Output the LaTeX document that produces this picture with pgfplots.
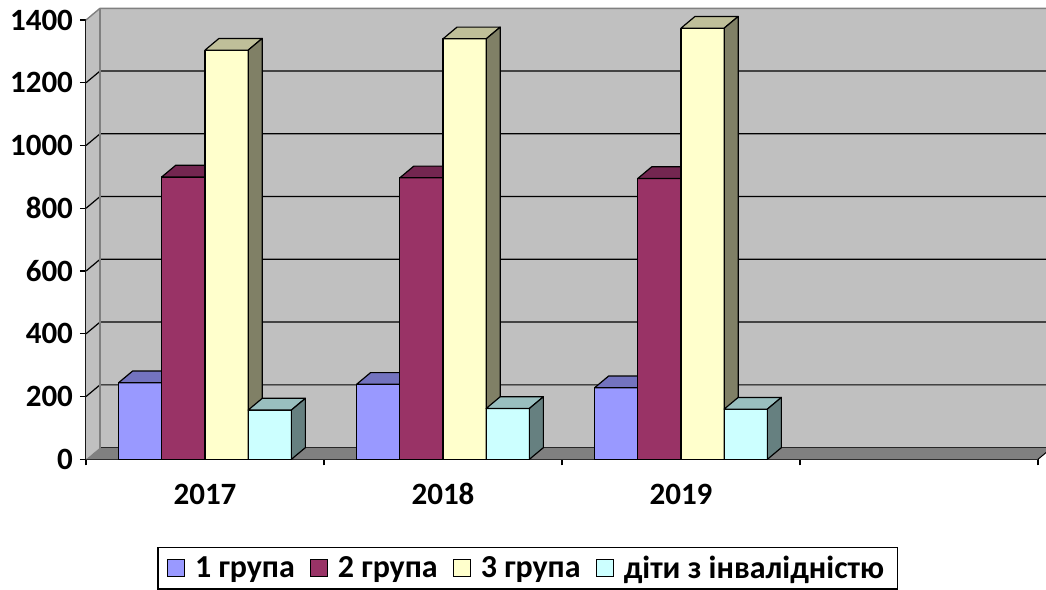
\documentclass[border=0pt]{standalone}
\usepackage{fontspec}
\setmainfont{Carlito}
\usepackage{pgfplots}
\pgfplotsset{compat=1.18}
\usepackage{pgfplotstable}

\definecolor{cA}{HTML}{9999FF}\definecolor{cAt}{HTML}{7373BF}\definecolor{cAs}{HTML}{4D4D80}
\definecolor{cB}{HTML}{993366}\definecolor{cBt}{HTML}{732650}\definecolor{cBs}{HTML}{4D1A33}
\definecolor{cC}{HTML}{FFFFCC}\definecolor{cCt}{HTML}{BFBF99}\definecolor{cCs}{HTML}{808066}
\definecolor{cD}{HTML}{CCFFFF}\definecolor{cDt}{HTML}{99BFBF}\definecolor{cDs}{HTML}{668080}
\definecolor{wall}{HTML}{C0C0C0}
\definecolor{floorc}{HTML}{808080}

\pgfplotstableread{
x g1 g2 g3 g4
0 244 900 1304 157
1 239 897 1340 162
2 228 895 1374 160
}\datatable

\pgfdeclareplotmark{nothing}{}

\newcommand\barbox[3]{%
  \pgfkeys{/pgf/fpu=false}%
  \pgfmathsetmacro\hh{\vy*0.156893}%
  \pgfmathsetmacro\hs{5.85-\hh}%
  \filldraw[fill=#1,draw=black,line width=0.6pt,line join=round] (-10.8pt,0pt) rectangle (10.8pt,-\hh pt);
  \filldraw[fill=#2,draw=black,line width=0.6pt,line join=round] (-10.8pt,0pt) -- (10.8pt,0pt) -- (17.8pt,5.85pt) -- (-3.8pt,5.85pt) -- cycle;
  \filldraw[fill=#3,draw=black,line width=0.6pt,line join=round] (10.8pt,0pt) -- (17.8pt,5.85pt) -- (17.8pt,\hs pt) -- (10.8pt,-\hh pt) -- cycle;
}

\pgfplotsset{box3d/.style n args={3}{only marks, mark=nothing, scatter,
   visualization depends on={rawy \as \vy},
   scatter/@pre marker code/.code={\barbox{#1}{#2}{#3}},
   scatter/@post marker code/.code={},
   legend image code/.code={\filldraw[fill=#1,draw=black,line width=0.6pt] (0pt,-4.25pt) rectangle (8.5pt,4.25pt);},
}}

\begin{document}
\begin{tikzpicture}
\useasboundingbox (0,0) rectangle (523pt,-295pt);
\begin{axis}[
  at={(43pt,-229.65pt)}, anchor=south west,
  scale only axis, width=476pt, height=219.65pt,
  xmin=-0.5, xmax=3.5, ymin=0, ymax=1400,
  clip=false,
  axis x line*=bottom, axis y line*=left,
  axis line style={black, line width=0.6pt},
  xtick={0,1,2}, xticklabels={2017,2018,2019},
  major x tick style={draw=none},
  minor xtick={-0.5,0.5,1.5,2.5,3.5},
  ytick={0,200,400,600,800,1000,1200,1400},
  tick align=outside,
  major tick length=3pt, minor tick length=3pt,
  tick style={black, line width=0.6pt},
  ticklabel style={font=\bfseries\fontsize{15.5}{18}\selectfont},
  xticklabel style={anchor=base, yshift=-19.8pt},
  /pgf/number format/assume math mode=true,
  /pgf/number format/1000 sep={},
  legend columns=-1,
  legend style={at={(0.4638,-0.1996)}, anchor=north, draw=black, line width=0.6pt,
    inner xsep=4.5pt,
    font=\bfseries\fontsize{16}{19}\selectfont,
    /tikz/every odd column/.append style={column sep=3pt},
    /tikz/every even column/.append style={column sep=5.5pt}},
]
% side wall
\fill[wall] (axis cs:-0.5,0) -- ([shift={(7pt,5.85pt)}]axis cs:-0.5,0) -- ([shift={(7pt,5.85pt)}]axis cs:-0.5,1400) -- (axis cs:-0.5,1400) -- cycle;
% back wall
\fill[wall] ([shift={(7pt,5.85pt)}]axis cs:-0.5,0) rectangle ([shift={(7pt,5.85pt)}]axis cs:3.5,1400);
% floor
\fill[floorc] (axis cs:-0.5,0) -- (axis cs:3.5,0) -- ([shift={(7pt,5.85pt)}]axis cs:3.5,0) -- ([shift={(7pt,5.85pt)}]axis cs:-0.5,0) -- cycle;
\draw[black!70!floorc,line width=0.5pt] ([shift={(7pt,5.85pt)}]axis cs:-0.5,0) -- ([shift={(7pt,5.85pt)}]axis cs:3.5,0);
\draw[black,line width=0.5pt] (axis cs:3.5,0) -- ([shift={(7pt,5.85pt)}]axis cs:3.5,0);
% gridlines
\pgfplotsinvokeforeach{200,400,600,800,1000,1200}{
  \draw[black,line width=0.6pt] (axis cs:-0.5,#1) -- ([shift={(7pt,5.85pt)}]axis cs:-0.5,#1) -- ([shift={(7pt,5.85pt)}]axis cs:3.5,#1);
}
% wall edges
\draw[floorc,line width=0.7pt] ([shift={(7pt,5.85pt)}]axis cs:-0.5,0) -- ([shift={(7pt,5.85pt)}]axis cs:-0.5,1400);
\draw[floorc,line width=0.7pt] (axis cs:-0.5,1400) -- ([shift={(7pt,5.85pt)}]axis cs:-0.5,1400) -- ([shift={(7pt,5.85pt)}]axis cs:3.5,1400);

\addplot[box3d={cA}{cAt}{cAs}] table[x expr=\thisrow{x}-0.27227, y=g1] {\datatable};
\addlegendentry{1 група}
\addplot[box3d={cB}{cBt}{cBs}] table[x expr=\thisrow{x}-0.09076, y=g2] {\datatable};
\addlegendentry{2 група}
\addplot[box3d={cC}{cCt}{cCs}] table[x expr=\thisrow{x}+0.09076, y=g3] {\datatable};
\addlegendentry{3 група}
\addplot[box3d={cD}{cDt}{cDs}] table[x expr=\thisrow{x}+0.27227, y=g4] {\datatable};
\addlegendentry{діти з інвалідністю}
\end{axis}
\end{tikzpicture}
\end{document}
